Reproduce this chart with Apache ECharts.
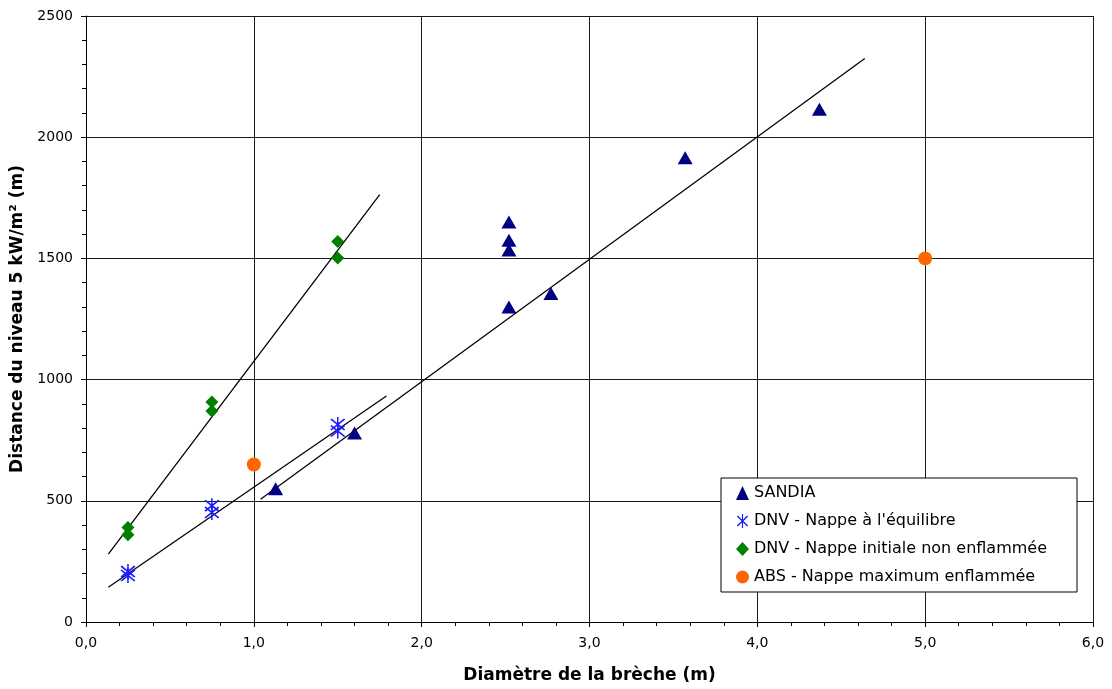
<!DOCTYPE html>
<html>
<head>
<meta charset="utf-8">
<script src="https://cdn.jsdelivr.net/npm/echarts@6/dist/echarts.min.js"></script>
<style>html,body{margin:0;padding:0;background:#fff}#c{width:1112px;height:689px}</style>
</head>
<body>
<div id="c"></div>
<script>
var sandia = [[1.13,550],[1.6,780],[2.52,1300],[2.52,1535],[2.52,1575],[2.52,1650],[2.77,1355],[3.57,1915],[4.37,2115]];
var dnvEquilibre = [[0.25,192],[0.25,208],[0.75,452],[0.75,480],[1.5,788],[1.5,815]];
var dnvInitiale = [[0.25,360],[0.25,390],[0.75,870],[0.75,908],[1.5,1502],[1.5,1570]];
var abs = [[1.0,650],[5.0,1500]];
var trendInitiale = [[0.133,280],[1.75,1763]];
var trendEquilibre = [[0.133,143],[1.79,932]];
var trendSandia = [[1.04,506],[4.64,2325]];
var seriesNames = ['SANDIA','DNV - Nappe à l\'équilibre','DNV - Nappe initiale non enflammée','ABS - Nappe maximum enflammée'];
var xTitle = 'Diamètre de la brèche (m)';
var yTitle = 'Distance du niveau 5 kW/m² (m)';

var star = 'path://M9.2,0 L10.8,0 L10.8,20 L9.2,20 Z M2,3.4 L3.4,2 L18,16.6 L16.6,18 Z M16.6,2 L18,3.4 L3.4,18 L2,16.6 Z';
var font = 'DejaVu Sans, Verdana, sans-serif';

function trend(d){
  return {type:'line', data:d, symbol:'none', lineStyle:{color:'#000',width:1.3}, silent:true, z:1, legendHoverLink:false};
}

var chart = echarts.init(document.getElementById('c'), null, {renderer:'canvas'});
chart.setOption({
  animation:false,
  backgroundColor:'#fff',
  grid:{left:86,right:19,top:16,bottom:66,containLabel:false},
  xAxis:{
    type:'value',min:0,max:6,interval:1,
    name:xTitle,nameLocation:'middle',nameGap:45,
    nameTextStyle:{fontFamily:font,fontWeight:'bold',fontSize:17,color:'#000'},
    axisLine:{lineStyle:{color:'#000',width:1}},
    axisTick:{show:true,length:5,lineStyle:{color:'#000'}},
    minorTick:{show:true,splitNumber:5,length:4,lineStyle:{color:'#000'}},
    axisLabel:{fontFamily:font,fontSize:14,color:'#000',margin:14,formatter:function(v){return v.toFixed(1).replace('.',',');}},
    splitLine:{show:true,lineStyle:{color:'#1a1a1a',width:1}}
  },
  yAxis:{
    type:'value',min:0,max:2500,interval:500,
    name:yTitle,nameLocation:'middle',nameGap:58,
    nameTextStyle:{fontFamily:font,fontWeight:'bold',fontSize:17,color:'#000'},
    axisLine:{show:true,lineStyle:{color:'#000',width:1}},
    axisTick:{show:true,length:5,lineStyle:{color:'#000'}},
    minorTick:{show:true,splitNumber:5,length:4,lineStyle:{color:'#000'}},
    axisLabel:{fontFamily:font,fontSize:14,color:'#000',margin:13,formatter:function(v){return String(v);}},
    splitLine:{show:true,lineStyle:{color:'#1a1a1a',width:1}}
  },
  legend:{
    data:[
      {name:seriesNames[0],icon:'triangle'},
      {name:seriesNames[1],icon:star},
      {name:seriesNames[2],icon:'diamond'},
      {name:seriesNames[3],icon:'circle'}
    ],
    orient:'vertical',left:721,top:478,
    backgroundColor:'#fff',borderColor:'#000',borderWidth:1,borderRadius:0,
    padding:[7,30,7,15],itemGap:12,itemWidth:13,itemHeight:14,
    textStyle:{fontFamily:font,fontSize:16,lineHeight:16,color:'#000'}
  },
  series:[
    trend(trendInitiale),trend(trendEquilibre),trend(trendSandia),
    {name:seriesNames[0],type:'scatter',data:sandia,symbol:'triangle',symbolSize:[15,13],itemStyle:{color:'#000080',opacity:1},z:3},
    {name:seriesNames[1],type:'scatter',data:dnvEquilibre,symbol:star,symbolSize:15,itemStyle:{color:'#1a1aff',opacity:1},z:3},
    {name:seriesNames[2],type:'scatter',data:dnvInitiale,symbol:'diamond',symbolSize:13,itemStyle:{color:'#008000',opacity:1},z:3},
    {name:seriesNames[3],type:'scatter',data:abs,symbol:'circle',symbolSize:14,itemStyle:{color:'#ff6600',opacity:1},z:3}
  ]
});
</script>
</body>
</html>
